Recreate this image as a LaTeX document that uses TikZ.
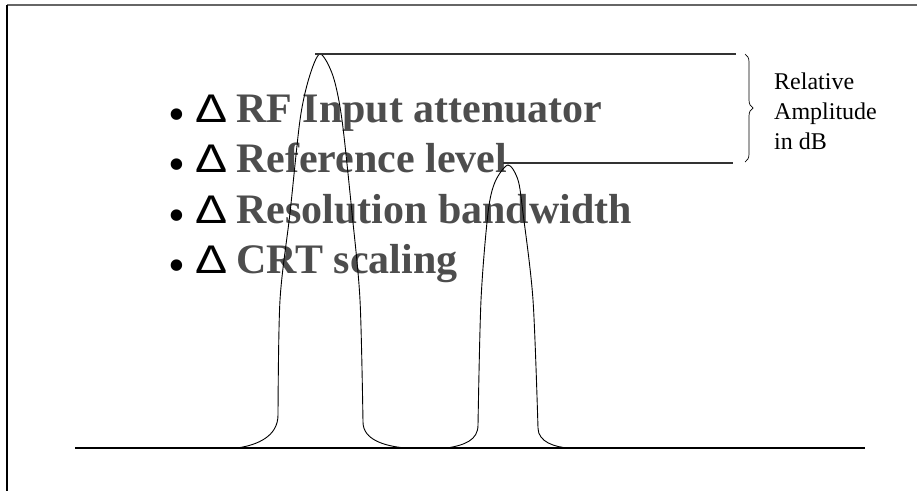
\documentclass[tikz,border=0pt]{standalone}
\usepackage{fontspec}
\usepackage{graphicx}
\setmainfont{Liberation Serif}
\newfontfamily\deltafont{Liberation Sans}
\usetikzlibrary{decorations.pathreplacing}
\definecolor{itemgray}{HTML}{4D4D4D}
\definecolor{linegray}{HTML}{333333}
\definecolor{framegray}{HTML}{666666}
\tikzset{
  peak/.style={draw=black, line width=0.9pt},
  level/.style={draw=linegray, line width=1.4pt},
  item/.style={anchor=base west, inner sep=0pt, text=itemgray, font=\fontsize{42}{42}\selectfont\bfseries},
  deltamark/.style={anchor=base west, inner sep=0pt, font=\deltafont\fontsize{40}{40}\selectfont},
  dotmark/.style={anchor=base west, inner sep=0pt, font=\fontsize{48}{48}\selectfont},
}
\begin{document}
\begin{tikzpicture}[x=1pt,y=-1pt]
  \useasboundingbox (0,0) rectangle (917,491);

	% Frame
  \draw[framegray, line width=1.5pt] (917,5) coordinate (fr0) -- (7,5) coordinate (fr1);
  \draw[black, line width=1.5pt] (fr1) -- (7,491);

	% Items
  \foreach \n/\y/\txt in {1/122/RF Input attenuator, 2/172/Reference level, 3/223/Resolution bandwidth, 4/273/CRT scaling} {
    \node[dotmark] (dot\n) at (168,\y+8) {•};
    \node[deltamark] (delta\n) at (195,\y) {\scalebox{1.2}[1]{Δ}};
    \node[item] (item\n) at (236,\y) {\txt};
  }

	% Baseline
  \draw[line width=1.2pt] (75,448) coordinate (b0) -- (865,448) coordinate (b1);

	% Large peak
  \draw[peak] (237,448) coordinate (p1l) .. controls (258,445) and (278,436) .. (278,415)
    -- plot[smooth] coordinates {(278,415) (280,300) (290,213) (300,120) (309,78) (320,54) (333,76) (342,120) (352,213) (360,300) (363,422)}
    .. controls (363,440) and (385,446) .. (405,448) coordinate (p1r);
  \coordinate (top1) at (320,54);

	% Small peak
  \draw[peak] (447,448) coordinate (p2l) .. controls (465,445) and (478,440) .. (478,425)
    -- plot[smooth] coordinates {(478,425) (481,300) (488,213) (495,182) (508,165) (518,180) (523,213) (533,300) (538,428)}
    .. controls (538,442) and (555,447) .. (568,448) coordinate (p2r);
  \coordinate (top2) at (508,165);

	% Level lines
  \draw[level] (315,54) -- (736,54) coordinate (l1);
  \draw[level] (503,163) -- (733,163) coordinate (l2);

	% Brace
  \draw[decorate, decoration={brace, amplitude=8pt}, line width=0.7pt] (745,54) coordinate (br0) -- (745,162) coordinate (br1);
  \node[anchor=base west, inner sep=0pt, align=left, font=\fontsize{24}{30}\selectfont] (ampl) at (774,149) {Relative\\Amplitude\\in dB};

\end{tikzpicture}
\end{document}
